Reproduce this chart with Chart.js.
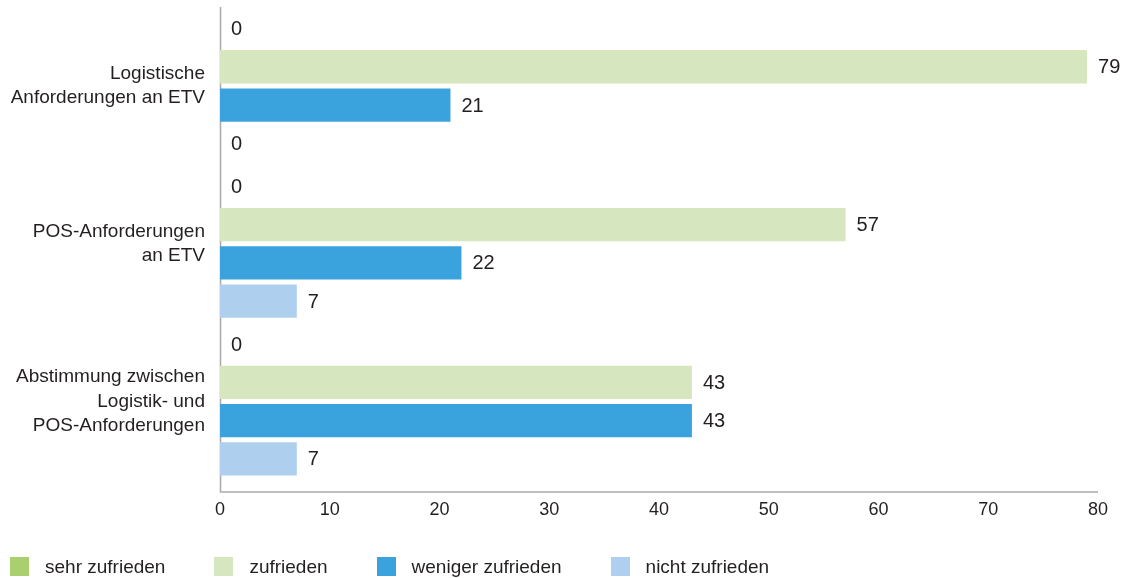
<!DOCTYPE html>
<html>
<head>
<meta charset="utf-8">
<script src="https://cdn.jsdelivr.net/npm/chart.js@4"></script>
<style>
  body { margin: 0; background: #fff; }
  #wrap { position: relative; width: 1121px; height: 578px; }
  #legend {
    position: absolute; left: 10px; top: 557px;
    display: flex; font-family: "Liberation Sans", Arial, sans-serif;
    font-size: 19px; color: #231f20; line-height: 19px;
  }
  #legend .item { display: flex; align-items: center; margin-right: 49px; }
  #legend .box { width: 19px; height: 19px; margin-right: 16px; }
</style>
</head>
<body>
<div id="wrap">
  <canvas id="chart" width="1121" height="578"></canvas>
  <div id="legend"></div>
</div>
<script>
// Categories (y axis) and series values
const categories = [
  ["Logistische", "Anforderungen an ETV"],
  ["POS-Anforderungen", "an ETV"],
  ["Abstimmung zwischen", "Logistik- und", "POS-Anforderungen"],
];
const seriesNames = ["sehr zufrieden", "zufrieden", "weniger zufrieden", "nicht zufrieden"];
const sehrZufrieden = [0, 0, 0];
const zufrieden = [79, 57, 43];
const wenigerZufrieden = [21, 22, 43];
const nichtZufrieden = [0, 7, 7];
const xTicks = [0, 10, 20, 30, 40, 50, 60, 70, 80];

const colors = ["#aacf6e", "#d6e6be", "#3aa3dd", "#aecfee"];
const textColor = "#231f20";
const axisColor = "#a9a9a9";
const fontFamily = "'Liberation Sans', Arial, sans-serif";

const seriesValues = [sehrZufrieden, zufrieden, wenigerZufrieden, nichtZufrieden];

// axis lines reach a bit below the plot, like in the original
const axisExtend = 11.5;

const axisLines = {
  id: "axisLines",
  beforeDatasetsDraw(chart) {
    const { ctx, chartArea } = chart;
    const yBottom = chartArea.bottom + axisExtend;
    ctx.save();
    ctx.strokeStyle = axisColor;
    ctx.lineWidth = 1.5;
    ctx.beginPath();
    ctx.moveTo(chartArea.left + 0.5, chartArea.top);
    ctx.lineTo(chartArea.left + 0.5, yBottom);
    ctx.lineTo(chartArea.right, yBottom);
    ctx.stroke();
    ctx.restore();
  },
};

// value labels at the end of each bar
const valueLabels = {
  id: "valueLabels",
  afterDatasetsDraw(chart) {
    const ctx = chart.ctx;
    ctx.save();
    ctx.font = "20px " + fontFamily;
    ctx.fillStyle = textColor;
    ctx.textAlign = "left";
    ctx.textBaseline = "middle";
    chart.data.datasets.forEach((ds, i) => {
      const meta = chart.getDatasetMeta(i);
      meta.data.forEach((bar, j) => {
        ctx.fillText(String(ds.data[j]), bar.x + 11, bar.y + 1);
      });
    });
    ctx.restore();
  },
};

const ctx = document.getElementById("chart").getContext("2d");
new Chart(ctx, {
  type: "bar",
  data: {
    labels: categories,
    datasets: seriesNames.map((name, i) => ({
      label: name,
      data: seriesValues[i],
      backgroundColor: colors[i],
      borderWidth: 0,
      categoryPercentage: 0.971,
      barPercentage: 0.87,
    })),
  },
  options: {
    indexAxis: "y",
    responsive: false,
    animation: false,
    layout: { padding: { top: 7, right: 23, bottom: 38, left: 0 } },
    scales: {
      x: {
        min: 0,
        max: 80,
        afterBuildTicks: (axis) => {
          axis.ticks = xTicks.map((v) => ({ value: v }));
        },
        afterFit: (scale) => {
          scale.paddingLeft = 0;
          scale.paddingRight = 0;
        },
        grid: { display: false, drawTicks: false },
        border: { display: false },
        ticks: {
          color: textColor,
          font: { family: fontFamily, size: 18 },
          padding: 19,
          maxRotation: 0,
        },
      },
      y: {
        grid: { display: false, drawTicks: false },
        border: { display: false },
        afterFit: (scale) => {
          scale.width = 220;
          scale.paddingTop = 0;
          scale.paddingBottom = 0;
        },
        ticks: {
          color: textColor,
          font: { family: fontFamily, size: 19, lineHeight: 1.3 },
          padding: 15,
        },
      },
    },
    plugins: {
      legend: { display: false },
      tooltip: { enabled: false },
    },
  },
  plugins: [axisLines, valueLabels],
});

// legend below the chart
const legend = document.getElementById("legend");
seriesNames.forEach((name, i) => {
  const item = document.createElement("div");
  item.className = "item";
  const box = document.createElement("span");
  box.className = "box";
  box.style.background = colors[i];
  const label = document.createElement("span");
  label.textContent = name;
  item.appendChild(box);
  item.appendChild(label);
  legend.appendChild(item);
});
</script>
</body>
</html>
